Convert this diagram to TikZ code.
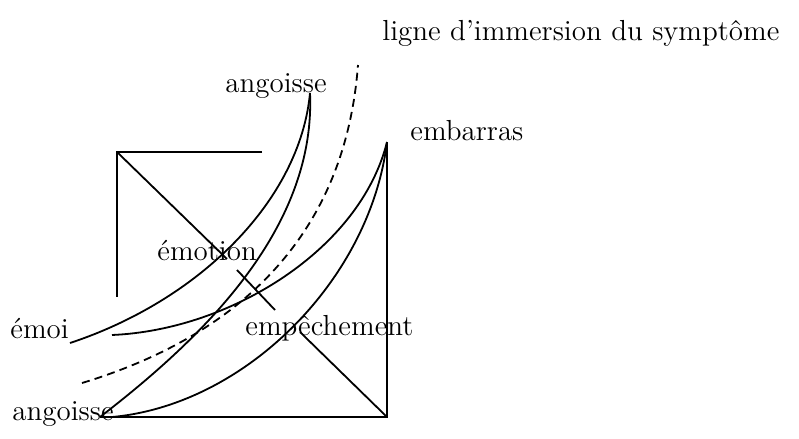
\documentclass[tikz,border=0pt]{standalone}
\usetikzlibrary{positioning}
\tikzset{
  lbl/.style = {font=\fontsize{14.5}{17}\selectfont, inner sep=0pt, anchor=base west},
  trait/.style = {line width=0.9pt},
  pointille/.style = {line width=0.9pt, dash pattern=on 4pt off 2.6pt}
}

\begin{document}
\begin{tikzpicture}[x=0.5pt, y=-0.5pt]
  \useasboundingbox (0,0) rectangle (799,439);

  % Labels
  \node[lbl] (ligne)    at (382,40)  {ligne d'immersion du symptôme};
  \node[lbl] (angH)     at (225,92)  {angoisse};
  \node[lbl] (embarras) at (410,140) {embarras};
  \node[lbl] (emotion)  at (157,260) {émotion};
  \node[lbl] (emoi)     at (10,338)  {émoi};
  \node[lbl] (empech)   at (245,335) {empêchement};
  \node[lbl] (angB)     at (12,420)  {angoisse};

  % Points
  \coordinate (tipA)  at (310,93);
  \coordinate (tipE)  at (387,142);
  \coordinate (endM1) at (70,343);
  \coordinate (endM2) at (112,335);
  \coordinate (endB1) at (100,417);
  \coordinate (endB2) at (112,417);
  \coordinate (dashS) at (82,383);
  \coordinate (dashE) at (358,65);

  % Upper square
  \coordinate (sqA)  at (117,152);
  \coordinate (sqAr) at (262,152);
  \coordinate (sqAb) at (117,297);
  \coordinate (sqAd) at (227,259);
  \draw[trait] (sqAr) -- (sqA) -- (sqAb);
  \draw[trait] (sqA) -- (sqAd);

  % Cross
  \coordinate (crS) at (237,270);
  \coordinate (crE) at (275,310);
  \draw[trait] (crS) -- (crE);

  % Lower square
  \coordinate (sqB)  at (387,417);
  \coordinate (sqBd) at (300,332);
  \draw[trait] (endB1) -- (sqB) -- (tipE);
  \draw[trait] (sqB) -- (sqBd);

  % Curves
  \draw[trait] (endM1) .. controls (200,300) and (300,200) .. (tipA);
  \draw[trait] (endB1) .. controls (200,340) and (316,230) .. (tipA);
  \draw[trait] (endM2) .. controls (230,330) and (360,250) .. (tipE);
  \draw[trait] (endB2) .. controls (245,405) and (370,280) .. (tipE);
  \draw[pointille] (dashS) .. controls (240,335) and (345,235) .. (dashE);
\end{tikzpicture}
\end{document}
